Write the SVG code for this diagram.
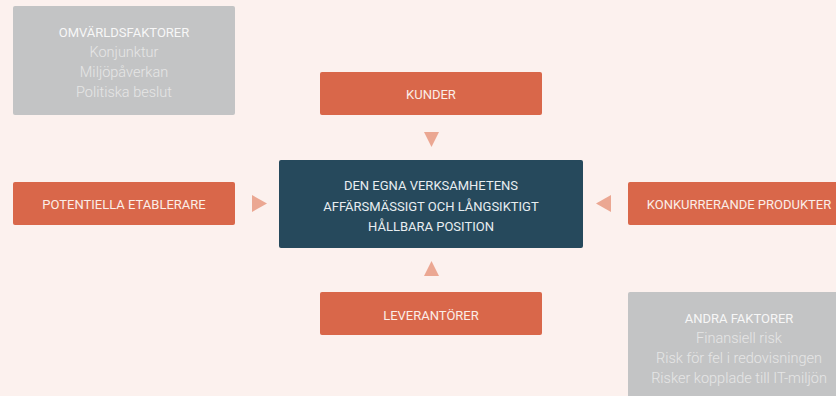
<svg xmlns="http://www.w3.org/2000/svg" width="836" height="396" viewBox="0 0 836 396">
<style>
.bg{fill:#fcf1ee}
.gray{fill:#c3c4c5}
.org{fill:#d9674a}
.dark{fill:#26495c}
.tri{fill:#eba792}
text{font-family:Roboto,"Liberation Sans",sans-serif;text-anchor:middle}
.lbl{font-size:13px;fill:#fbeee8}
.ttl{font-size:13px;fill:#f7f7f7}
.sub{font-size:14.5px;fill:#e6e6e6;font-weight:300}
.ctr{font-size:13px;fill:#e8eef1}
</style>
<rect class="bg" x="0" y="0" width="836" height="396"/>
<g id="omvarldsfaktorer">
<rect class="gray" x="13" y="6" width="222" height="109" rx="2"/>
<text class="ttl" x="124" y="37">OMVÄRLDSFAKTORER</text>
<text class="sub" x="124" y="57">Konjunktur</text>
<text class="sub" x="124" y="77">Miljöpåverkan</text>
<text class="sub" x="124" y="97">Politiska beslut</text>
</g>
<g id="andra-faktorer">
<rect class="gray" x="628" y="292" width="224" height="110" rx="2"/>
<text class="ttl" x="739" y="323">ANDRA FAKTORER</text>
<text class="sub" x="739" y="343">Finansiell risk</text>
<text class="sub" x="739" y="363">Risk för fel i redovisningen</text>
<text class="sub" x="739" y="383">Risker kopplade till IT-miljön</text>
</g>
<g id="kunder">
<rect class="org" x="320" y="72" width="222" height="43" rx="2"/>
<text class="lbl" x="431" y="99">KUNDER</text>
</g>
<g id="leverantorer">
<rect class="org" x="320" y="292" width="222" height="43" rx="2"/>
<text class="lbl" x="431" y="320">LEVERANTÖRER</text>
</g>
<g id="potentiella">
<rect class="org" x="13" y="182" width="222" height="43" rx="2"/>
<text class="lbl" x="124" y="209">POTENTIELLA ETABLERARE</text>
</g>
<g id="konkurrerande">
<rect class="org" x="628" y="182" width="222" height="43" rx="2"/>
<text class="lbl" x="739" y="209">KONKURRERANDE PRODUKTER</text>
</g>
<g id="center">
<rect class="dark" x="279" y="160" width="304" height="88" rx="2"/>
<text class="ctr" x="431" y="190">DEN EGNA VERKSAMHETENS</text>
<text class="ctr" x="431" y="211">AFFÄRSMÄSSIGT OCH LÅNGSIKTIGT</text>
<text class="ctr" x="431" y="231">HÅLLBARA POSITION</text>
</g>
<g id="connectors">
<polygon class="tri" points="424,132 439,132 431.5,147"/>
<polygon class="tri" points="424,276 439,276 431.5,261"/>
<polygon class="tri" points="252,195 252,212 267,203.5"/>
<polygon class="tri" points="611,195 611,212 596,203.5"/>
</g>
</svg>
